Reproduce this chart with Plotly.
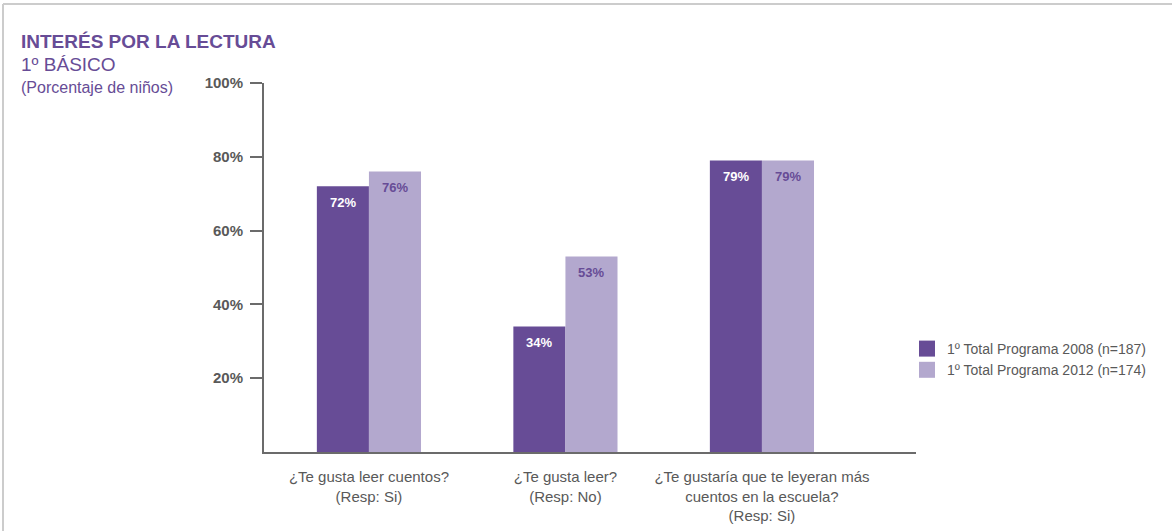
import plotly.graph_objects as go

# Survey questions (x categories)
categories = [
    "¿Te gusta leer cuentos?<br>(Resp: Si)",
    "¿Te gusta leer?<br>(Resp: No)",
    "¿Te gustaría que te leyeran más<br>cuentos en la escuela?<br>(Resp: Si)",
]

# Percentages per program cohort
series_names = ["1º Total Programa 2008 (n=187)", "1º Total Programa 2012 (n=174)"]
values_2008 = [72, 34, 79]
values_2012 = [76, 53, 79]

y_ticks = [20, 40, 60, 80, 100]
y_tick_labels = ["20%", "40%", "60%", "80%", "100%"]

DARK = "#674C96"
LIGHT = "#B3A8CE"
PURPLE_TEXT = "#674C96"
GRAY_TEXT = "#595959"
AXIS = "#6B6B6B"
FONT = "Liberation Sans"

W, H = 1172, 531
M_L, M_R, M_T, M_B = 264, 256, 83, 79
PLOT_W = W - M_L - M_R
PLOT_H = H - M_T - M_B

x_range = [-0.534, 2.784]
BARGAP = 0.47
# pixel width of one bar, used to centre value labels over each bar
px_per_cat = PLOT_W / (x_range[1] - x_range[0])
bar_px = px_per_cat * (1 - BARGAP) / 2


def px_x(px):
    return (px - M_L) / PLOT_W


def px_y(py):
    return (H - M_B - py) / PLOT_H


fig = go.Figure()

series = [
    (series_names[0], values_2008, DARK, "white", -bar_px / 2),
    (series_names[1], values_2012, LIGHT, PURPLE_TEXT, bar_px / 2),
]

annotations = []
for name, vals, color, txt_color, shift in series:
    fig.add_trace(go.Bar(
        x=categories,
        y=vals,
        name=name,
        marker=dict(color=color, line=dict(width=0)),
        showlegend=False,
        hoverinfo="skip",
    ))
    for cat, v in zip(categories, vals):
        annotations.append(dict(
            x=cat, y=v, xref="x", yref="y", xshift=shift, yshift=-16,
            text=f"<b>{v}%</b>", showarrow=False,
            xanchor="center", yanchor="middle",
            font=dict(family=FONT, size=13, color=txt_color),
        ))

# Legend entries drawn as larger square swatches
for name, color in [(series_names[0], DARK), (series_names[1], LIGHT)]:
    fig.add_trace(go.Scatter(
        x=[None], y=[None], mode="markers", name=name,
        marker=dict(symbol="square", size=17, color=color),
        hoverinfo="skip",
    ))

shapes = []
# Downward ticks at group boundaries and at the end of the x axis
for xb in [0.5, 1.5, x_range[1]]:
    shapes.append(dict(
        type="line", xref="x", yref="y", ysizemode="pixel", yanchor=0,
        x0=xb, x1=xb, y0=0, y1=-11,
        line=dict(color=AXIS, width=2),
    ))
# Light frame at the top and left edges of the card
shapes.append(dict(type="line", xref="paper", yref="paper",
                   x0=px_x(3), x1=px_x(W), y0=px_y(4), y1=px_y(4),
                   line=dict(color="#CCCCCC", width=2)))
shapes.append(dict(type="line", xref="paper", yref="paper",
                   x0=px_x(3), x1=px_x(3), y0=px_y(4), y1=px_y(H),
                   line=dict(color="#CCCCCC", width=2)))

titles = [
    dict(text="<b>INTERÉS POR LA LECTURA</b>", x=px_x(19), y=px_y(42),
         font=dict(family=FONT, size=19, color=PURPLE_TEXT)),
    dict(text="1º BÁSICO", x=px_x(19), y=px_y(65),
         font=dict(family=FONT, size=19, color=PURPLE_TEXT)),
    dict(text="(Porcentaje de niños)", x=px_x(19), y=px_y(88),
         font=dict(family=FONT, size=16, color=PURPLE_TEXT)),
]
for a in titles:
    a.update(xref="paper", yref="paper", xanchor="left", yanchor="middle",
             showarrow=False)
annotations.extend(titles)

fig.update_layout(
    width=W, height=H,
    margin=dict(l=M_L, r=M_R, t=M_T, b=M_B, pad=0, autoexpand=False),
    paper_bgcolor="white", plot_bgcolor="white",
    barmode="group", bargap=BARGAP, bargroupgap=0,
    font=dict(family=FONT, color=GRAY_TEXT),
    shapes=shapes,
    annotations=annotations,
    legend=dict(
        x=px_x(907), y=px_y(333), xanchor="left", yanchor="top",
        font=dict(family=FONT, size=14, color=GRAY_TEXT),
        bgcolor="rgba(0,0,0,0)", itemclick=False,
    ),
    xaxis=dict(
        type="category", range=x_range, automargin=False,
        showline=True, linecolor=AXIS, linewidth=2,
        ticks="", showgrid=False, zeroline=False,
        tickfont=dict(family=FONT, size=15, color=GRAY_TEXT),
        ticklabelstandoff=10,
        fixedrange=True,
    ),
    yaxis=dict(
        range=[0, 100], automargin=False,
        tickvals=y_ticks, ticktext=y_tick_labels,
        showline=True, linecolor=AXIS, linewidth=2,
        ticks="outside", ticklen=12, tickwidth=2, tickcolor=AXIS,
        showgrid=False, zeroline=False,
        tickfont=dict(family=FONT, size=15, color=GRAY_TEXT, weight="bold"),
        ticklabelstandoff=4,
        fixedrange=True,
    ),
)

fig.write_html("out.html", config={"displayModeBar": False})
